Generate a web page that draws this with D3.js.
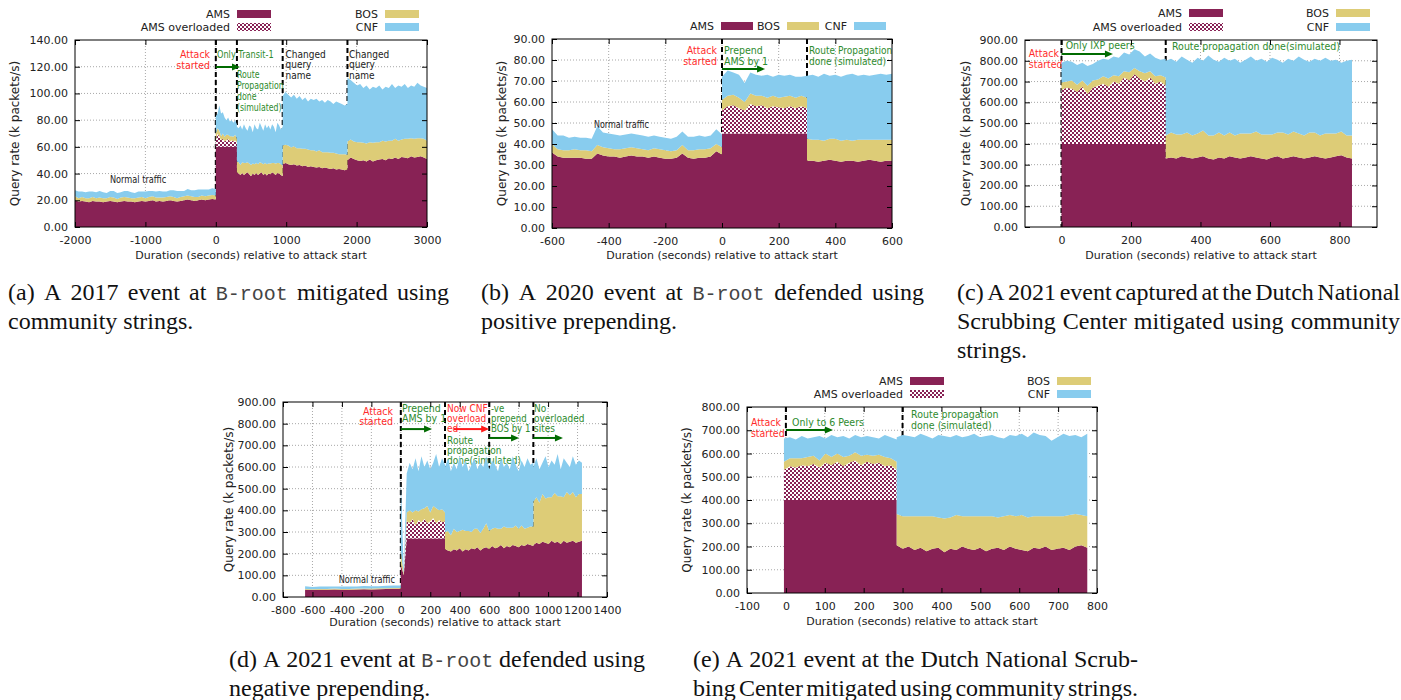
<!DOCTYPE html>
<html>
<head>
<meta charset="utf-8">
<script src="https://d3js.org/d3.v7.min.js"></script>
<style>
body { margin: 0; background: #fff; }
text { font-family: "DejaVu Sans", sans-serif; }
.serif { font-family: "Liberation Serif", "Times New Roman", serif; font-size: 24px; fill: #111; }
.mono { font-family: "Liberation Mono", "DejaVu Sans Mono", monospace; font-size: 20px; fill: #444; }
</style>
</head>
<body>
<svg id="fig" width="1401" height="700"></svg>
<script>

// Colours for the three sites
const AMS_COL = "#882255", BOS_COL = "#ddcc77", CNF_COL = "#88ccee";
const RED = "#ff2b2b", GREEN = "#2e8b2e", DKGREEN = "#006b00", INK = "#222";

// ---------- (a) 2017, B-root, community strings ----------
// segments: [start, end, number of samples]
const aSegments = [[-2000, 0, 41], [0, 300, 13], [300, 950, 27], [950, 1870, 24], [1870, 3000, 26]];
const aAMS = [
  20,19,19.5,19,18.5,19.5,19,19,18.5,19,19.5,19,18.5,19,19.5,19,19,18.5,19,19.5,19,19.5,20,19,19.5,19,19.5,20,19.5,19,19.5,20,20.5,20,19.5,20,20.5,20,20.5,21,20.5,
  60,60,60,60,60,60,60,60,60,60,60,60,60,
  41,40,39,40.5,39,40,41,39.5,38,40,39,40.5,39,40,41,39,40,38.5,40,39.5,41,40,39,40.5,40,39,38,
  47,48,47,46.5,47,46,46.5,45.5,46,45,45.5,45,44.5,45,44,44.5,44,43.5,44,43,43.5,43,42.5,43,
  50,52,51,50,49.5,50,49,50.5,49,50,50.5,51,50,51.5,51,52,51,52.5,52,51.5,53,52,52.5,53,52,51];
const aOverSeg = 1;
const aOver = [5,10,8,5,6,4,5,6,4,5,4,5,3];
const aBOS = [
  3,2.5,3,2.5,3,3,2.5,3,3,2.5,3,3,2.5,3,3,3,2.5,3,3,3,2.5,3,3,3,2.5,3,3,3,3,2.5,3,3,3,3,3,2.5,3,3,3,3,3,
  5,4,4,3,4,3.5,4,3,4,3,3.5,4,3,
  8,8.5,7.5,8,9,8,7.5,8,8.5,7.5,8,7.5,8,8.5,7,8,8,8.5,7.5,8,7,8,8.5,7.5,8,8,8,
  14,13.5,14,13,13.5,13,12.5,13,12.5,13,12,12.5,12,12.5,12,11.5,12,12,11.5,12,11,11.5,12,11,
  14,13.5,13,13.5,14,13,13.5,13,14,13.5,13,13.5,14,13,13.5,14,13.5,13,14,14.5,13.5,14,14,13.5,14,13.5];
const aCNF = [
  4.5,5,4,4.5,5,4,4.5,5,4.5,4,4.5,5,4.5,4,4.5,5,4.5,4,4.5,4,5,4.5,4,4.5,5,4.5,4,4.5,5,5.5,4.5,4,5,4.5,5,5.5,4.5,5,4.5,5,5,
  13,11,19,17,16,14.5,11,13,11,12,10.5,11,11,
  26,25.5,29.5,24.5,29,26,23.5,28.5,28.5,23.5,30,26,26,29.5,27,25,29,27,28.5,25.5,29,27,23.5,30,28,26,29,
  37,39.5,38,37.5,38.5,37,39,36.5,38.5,36,38.5,37.5,39.5,36.5,39,37,39,38.5,36.5,39,38.5,37.5,36.5,38,
  48,44.5,44,42.5,43.5,41,43.5,39.5,42,40.5,42.5,38.5,41,39.5,42.5,38,41.5,39.5,41,38,39.5,39,41.5,39.5,39,39.5];

// ---------- (b) 2020, B-root, positive prepending ----------
const bSegments = [[-600, 0, 31], [0, 300, 16], [300, 600, 16]];
const bAMS = [
  36,34,33.5,33.5,33.5,33.5,33,33,35.5,34.5,34,34,33.5,34,34.5,34,34,33.5,34,33.5,33,33,33.5,35.5,33.5,33,33.5,33.5,34,36.5,35,
  45,45,45,45,45,45,45,45,45,45,45,45,45,45,45,45,
  32,32,31.5,32,32.5,32,31.5,32,32,31.5,32,32.5,32,31.5,32,32];
const bOverSeg = 1;
const bOver = [11,13,13.5,12,11,14,13,13.5,12,13,12.5,12,13,12,13,12];
const bBOS = [
  4,3.5,3.5,3.5,4,3.5,4,3.5,4,4,4,3.5,4,4,4,4,3.5,3.5,4,4,4,3.5,3.5,4,3.5,4,4,4,4,3.5,3.5,
  5,5,5,5,4,5,5,4.5,5,5,4.5,5.5,5,5,5,5,
  10.5,10,10.5,9.5,10,10.5,10,10,9.5,10.5,10,9.5,10,10.5,10,10];
const bCNF = [
  7,6.5,7,6,6,6,6,6,9,7,7,7,6.5,6.5,6.5,6.5,6.5,6.5,6,6,6,6,6.5,6.5,6.5,6.5,6.5,6,6,7,6,
  11,12,10.5,11,9,10,10,9.5,11,9,11,10,10,10,9,10.5,
  30,31,30,32,30,30.5,30.5,31,32,30.5,31,30.5,31,31.5,31,31.5];

// ---------- (c) 2021, Dutch scrubbing center ----------
const cSegments = [[0, 300, 21], [300, 836, 36]];
const cAMS = [
  400,400,400,400,400,400,400,400,400,400,400,400,400,400,400,400,400,400,400,400,400,
  330,335,330,340,335,330,335,340,330,325,335,330,340,335,330,335,340,335,330,325,335,340,330,335,340,335,330,335,340,335,330,335,340,345,335,330];
const cOverSeg = 0;
const cOver = [260,270,265,250,275,240,270,280,290,275,300,290,320,305,335,315,300,320,290,300,280];
const cBOS = [
  35,30,40,35,30,40,35,30,35,40,30,35,30,40,30,35,40,30,35,30,40,
  110,120,115,105,120,110,115,125,110,115,120,110,115,105,120,115,110,125,115,120,110,115,125,110,120,115,110,120,115,105,120,115,110,115,105,110];
const cCNF = [
  95,100,90,95,85,95,80,90,85,90,90,90,90,85,90,95,80,85,90,75,90,
  360,355,350,375,350,350,365,335,385,365,340,375,345,370,340,355,370,340,365,350,370,350,335,365,340,370,365,340,355,360,365,350,355,330,360,365];

// ---------- (d) 2021, B-root, negative prepending ----------
const dSegments = [[-650, 0, 14], [0, 300, 16], [300, 900, 31], [900, 1230, 17]];
const dAMS = [
  33,32,34,33,35,34,33,35,36,35,36,37,38,38,
  150,100,270,270,270,270,270,270,270,270,270,270,270,270,270,270,
  220,215,210,220,215,225,210,220,215,225,220,230,215,225,230,220,235,225,230,240,225,235,230,240,235,230,240,235,245,240,235,
  240,250,245,255,250,245,260,250,255,245,260,250,255,260,250,255,260];
const dOverSeg = 1;
const dOver = [0,0,80,70,90,60,85,75,90,70,80,95,70,85,75,80];
const dBOS = [
  4,4,3,4,4,3,4,4,3,4,4,3,4,4,
  60,10,40,60,30,70,40,60,50,80,40,55,70,45,60,40,
  80,90,75,95,85,80,100,85,90,75,95,85,80,90,110,85,80,95,85,75,100,85,90,80,95,85,90,80,75,85,90,
  200,210,190,220,205,215,200,230,210,220,200,235,215,225,210,220,215];
const dCNF = [
  13,10,12,11,10,12,11,10,12,11,10,12,11,12,
  330,10,180,220,200,240,185,245,190,210,200,200,250,200,235,220,
  300,335,295,305,290,345,290,325,275,310,325,275,325,285,310,285,315,290,265,325,275,300,270,330,280,265,300,285,320,285,295,
  160,180,155,145,195,140,170,130,195,125,180,135,130,165,150,155,145];

// ---------- (e) 2021, Dutch scrubbing center ----------
const eSegments = [[-5, 285, 20], [285, 775, 33]];
const eAMS = [
  400,400,400,400,400,400,400,400,400,400,400,400,400,400,400,400,400,400,400,400,
  205,190,200,185,195,180,190,195,175,190,185,200,190,185,195,180,190,195,185,200,190,185,180,195,190,200,185,190,195,185,200,205,195];
const eOverSeg = 0;
const eOver = [130,145,140,150,145,155,140,160,150,165,145,160,170,150,165,155,160,145,150,130];
const eBOS = [
  35,35,40,30,40,35,30,40,35,35,40,30,35,40,30,35,35,40,30,35,
  135,140,130,145,135,150,140,130,145,135,150,130,140,145,135,150,140,130,145,135,140,150,145,135,140,130,145,140,135,150,140,130,135];
const eCNF = [
  100,90,80,95,80,80,105,65,95,70,90,75,75,80,80,80,70,95,90,95,
  330,350,345,340,355,345,335,355,355,345,345,340,345,355,340,345,350,345,335,345,345,350,345,360,350,345,325,340,355,340,340,335,355];

const svg = d3.select("#fig");

// Checkered fill for "AMS overloaded"
const defs = svg.append("defs");
const pat = defs.append("pattern").attr("id", "checker")
	.attr("patternUnits", "userSpaceOnUse").attr("width", 4).attr("height", 4);
pat.append("rect").attr("width", 4).attr("height", 4).attr("fill", "#fff");
pat.append("rect").attr("width", 2).attr("height", 2).attr("fill", AMS_COL);
pat.append("rect").attr("x", 2).attr("y", 2).attr("width", 2).attr("height", 2).attr("fill", AMS_COL);

const FILL = {ams: AMS_COL, over: "url(#checker)", bos: BOS_COL, cnf: CNF_COL};

// Turn segment lists into rows for the stack
function buildRows(segs, ams, over, overSeg, bos, cnf) {
	const rows = [];
	let k = 0;
	segs.forEach(([t0, t1, n], si) => {
		for (let i = 0; i < n; i++, k++) {
			rows.push({
				t: t0 + (t1 - t0) * i / (n - 1),
				ams: ams[k],
				over: si === overSeg ? over[i] : 0,
				bos: bos[k],
				cnf: cnf[k]
			});
		}
	});
	return rows;
}

let clipId = 0;

// Draw one panel
function drawPanel(p) {
	const bottom = p.top + p.height, right = p.left + p.width;
	const x = d3.scaleLinear().domain(p.xDomain).range([p.left, right]);
	const y = d3.scaleLinear().domain([0, p.yMax]).range([bottom, p.top]);
	const g = svg.append("g");

	const yTicks = d3.range(0, p.yMax + 1e-9, p.yStep);
	const xTicks = d3.range(p.xTicks[0], p.xTicks[1] + 1e-9, p.xTicks[2]);

	// Grid (dotted)
	g.append("g").selectAll("line")
		.data(yTicks.filter(v => v > 0 && v < p.yMax))
		.join("line")
		.attr("x1", p.left).attr("x2", right)
		.attr("y1", d => y(d)).attr("y2", d => y(d))
		.attr("stroke", "#a8a8a8").attr("stroke-dasharray", "1,2");
	g.append("g").selectAll("line")
		.data(xTicks.filter(v => v > p.xDomain[0] && v < p.xDomain[1]))
		.join("line")
		.attr("x1", d => x(d)).attr("x2", d => x(d))
		.attr("y1", p.top).attr("y2", bottom)
		.attr("stroke", "#a8a8a8").attr("stroke-dasharray", "1,2");

	// Event markers (behind data)
	g.append("g").selectAll("line")
		.data(p.events)
		.join("line")
		.attr("x1", d => x(d)).attr("x2", d => x(d))
		.attr("y1", p.top).attr("y2", bottom)
		.attr("stroke", "#000").attr("stroke-width", 2).attr("stroke-dasharray", "5,3");

	// Annotation labels (behind data, like the original)
	p.notes.forEach(n => {
		const t = g.append("text")
			.attr("transform", `translate(${x(n.t)},${y(n.v)}) scale(${n.sx || 0.9},1)`)
			.attr("fill", n.color)
			.attr("text-anchor", n.anchor || "start")
			.style("font-size", (n.fs || 10.5) + "px");
		t.selectAll("tspan").data(n.lines).join("tspan")
			.attr("x", 0).attr("y", (d, i) => i * (n.lh || p.lineH || 11)).attr("dy", "0.35em")
			.text(d => d);
	});

	// Stacked areas
	const rows = buildRows(p.segs, p.ams, p.over, p.overSeg, p.bos, p.cnf);
	const series = d3.stack().keys(["ams", "over", "bos", "cnf"])(rows);
	const area = d3.area()
		.x(d => x(d.data.t))
		.y0(d => y(d[0]))
		.y1(d => y(d[1]));
	const cid = "clip" + (clipId++);
	defs.append("clipPath").attr("id", cid).append("rect")
		.attr("x", p.left).attr("y", p.top).attr("width", p.width).attr("height", p.height);
	g.append("g").attr("clip-path", `url(#${cid})`)
		.selectAll("path").data(series).join("path")
		.attr("d", area)
		.attr("fill", d => FILL[d.key]);

	// Arrows
	p.arrows.forEach(a => {
		const x0 = x(a.t0), x1 = x(a.t1), yy = y(a.v);
		g.append("line").attr("x1", x0).attr("x2", x1 - 6).attr("y1", yy).attr("y2", yy)
			.attr("stroke", a.color).attr("stroke-width", 2);
		g.append("path").attr("d", `M${x1},${yy} L${x1 - 8},${yy - 3.5} L${x1 - 8},${yy + 3.5} Z`)
			.attr("fill", a.color);
	});

	// Axes (ticks inward, mirrored)
	const styleAxis = sel => {
		sel.select(".domain").remove();
		sel.attr("font-family", "DejaVu Sans").attr("font-size", 11);
		sel.selectAll("text").attr("fill", INK);
	};
	g.append("g").attr("transform", `translate(0,${bottom})`)
		.call(d3.axisBottom(x).tickValues(xTicks).tickSize(-5).tickPadding(9).tickFormat(d => d))
		.call(styleAxis);
	g.append("g").attr("transform", `translate(0,${p.top})`)
		.call(d3.axisTop(x).tickValues(xTicks).tickSize(-5).tickFormat(""))
		.call(styleAxis);
	g.append("g").attr("transform", `translate(${p.left},0)`)
		.call(d3.axisLeft(y).tickValues(yTicks).tickSize(-5).tickPadding(7).tickFormat(d3.format(".2f")))
		.call(styleAxis);
	g.append("g").attr("transform", `translate(${right},0)`)
		.call(d3.axisRight(y).tickValues(yTicks).tickSize(-5).tickFormat(""))
		.call(styleAxis);

	// Border
	g.append("rect").attr("x", p.left).attr("y", p.top)
		.attr("width", p.width).attr("height", p.height)
		.attr("fill", "none").attr("stroke", "#000");

	// Axis titles
	g.append("text")
		.attr("x", p.left + p.width / 2).attr("y", bottom + p.xLabelOff).attr("dy", "0.35em")
		.attr("text-anchor", "middle").attr("fill", INK).style("font-size", "11px")
		.text("Duration (seconds) relative to attack start");
	g.append("text")
		.attr("transform", `translate(${p.left - p.yLabelOff},${p.top + p.height / 2}) rotate(-90)`)
		.attr("dy", "0.35em")
		.attr("text-anchor", "middle").attr("fill", INK).style("font-size", "12px")
		.text("Query rate (k packets/s)");

	// Legend
	p.legend.forEach(l => {
		g.append("text").attr("x", l.lx).attr("y", l.ly).attr("dy", "0.35em")
			.attr("text-anchor", "end").attr("fill", INK).style("font-size", "11px")
			.text(l.label);
		g.append("rect").attr("x", l.lx + 7).attr("y", l.ly - 4)
			.attr("width", p.swW).attr("height", 8)
			.attr("fill", FILL[l.key]);
	});
}

// Caption text, justified by spreading word gaps
function drawCaption(c) {
	c.lines.forEach((line, li) => {
		const lg = svg.append("g");
		const yy = c.y + li * 29;
		const words = line.split(" ");
		const nodes = words.map(w => lg.append("text")
			.attr("class", w === "B-root" ? "mono" : "serif")
			.attr("y", yy).text(w));
		const widths = nodes.map(n => n.node().getComputedTextLength());
		const total = d3.sum(widths);
		const last = li === c.lines.length - 1;
		let gap = 6, scale = 1;
		if ((!last || c.justifyLast) && words.length > 1) {
			gap = (c.w - total) / (words.length - 1);
			if (gap < 3) {
				gap = 3;
				scale = c.w / (total + gap * (words.length - 1));
			}
		}
		let cx = 0;
		nodes.forEach((n, i) => {
			n.attr("x", cx);
			cx += widths[i] + gap;
		});
		lg.attr("transform", `translate(${c.x},0) scale(${scale},1)`);
	});
}

const panels = [
	{
		left: 75, top: 40, width: 352, height: 187,
		xDomain: [-2000, 3000], xTicks: [-2000, 3000, 1000], yMax: 140, yStep: 20,
		segs: aSegments, ams: aAMS, over: aOver, overSeg: aOverSeg, bos: aBOS, cnf: aCNF,
		events: [0, 300, 950, 1870],
		notes: [
			{t: -82, v: 129.5, anchor: "end", color: RED, lines: ["Attack", "started"]},
			{t: 17, v: 129.5, color: GREEN, sx: 0.78, lines: ["Only Transit-1"]},
			{t: 301, v: 114.5, color: GREEN, fs: 10, sx: 0.78, lines: ["Route", "Propagation", "done", "(simulated)"]},
			{t: 990, v: 129.5, color: INK, fs: 10, lh: 10.5, lines: ["Changed", "query", "name"]},
			{t: 1892, v: 129.5, color: INK, fs: 10, lh: 10.5, lines: ["Changed", "query", "name"]},
			{t: -1503, v: 35.2, color: INK, fs: 10, sx: 0.82, lines: ["Normal traffic"]}
		],
		arrows: [{t0: 0, t1: 344, v: 119.8, color: DKGREEN}],
		xLabelOff: 28, yLabelOff: 60, swW: 34,
		legend: [
			{label: "AMS", key: "ams", lx: 230, ly: 14},
			{label: "AMS overloaded", key: "over", lx: 230, ly: 27},
			{label: "BOS", key: "bos", lx: 378, ly: 14},
			{label: "CNF", key: "cnf", lx: 378, ly: 27}
		]
	},
	{
		left: 552, top: 39, width: 340, height: 189,
		xDomain: [-600, 600], xTicks: [-600, 600, 200], yMax: 90, yStep: 10,
		segs: bSegments, ams: bAMS, over: bOver, overSeg: bOverSeg, bos: bBOS, cnf: bCNF,
		events: [0, 300],
		notes: [
			{t: -18, v: 84.8, anchor: "end", color: RED, lines: ["Attack", "started"]},
			{t: 7, v: 84.8, color: GREEN, lines: ["Prepend", "AMS by 1"]},
			{t: 307, v: 84.8, color: GREEN, sx: 0.86, lines: ["Route Propagation", "done (simulated)"]},
			{t: -452, v: 49.5, color: INK, fs: 10, sx: 0.8, lines: ["Normal traffic"]}
		],
		arrows: [{t0: 0, t1: 152, v: 75.7, color: DKGREEN}],
		xLabelOff: 27, yLabelOff: 50, swW: 32,
		legend: [
			{label: "AMS", key: "ams", lx: 714, ly: 26},
			{label: "BOS", key: "bos", lx: 780, ly: 26},
			{label: "CNF", key: "cnf", lx: 847, ly: 26}
		]
	},
	{
		left: 1025, top: 40, width: 352, height: 187,
		xDomain: [-105, 908], xTicks: [0, 800, 200], yMax: 900, yStep: 100,
		segs: cSegments, ams: cAMS, over: cOver, overSeg: cOverSeg, bos: cBOS, cnf: cCNF,
		events: [0, 300],
		notes: [
			{t: -94, v: 837, color: RED, lines: ["Attack", "started"]},
			{t: 12, v: 876, color: GREEN, lines: ["Only IXP peers"]},
			{t: 318, v: 871, color: GREEN, lines: ["Route propagation done(simulated)"]}
		],
		arrows: [{t0: 0, t1: 148, v: 833, color: DKGREEN}],
		xLabelOff: 28, yLabelOff: 59, swW: 34,
		legend: [
			{label: "AMS", key: "ams", lx: 1182, ly: 13},
			{label: "AMS overloaded", key: "over", lx: 1182, ly: 27},
			{label: "BOS", key: "bos", lx: 1329, ly: 13},
			{label: "CNF", key: "cnf", lx: 1329, ly: 27}
		]
	},
	{
		left: 283, top: 402, width: 324, height: 195,
		xDomain: [-800, 1400], xTicks: [-800, 1400, 200], yMax: 900, yStep: 100,
		segs: dSegments, ams: dAMS, over: dOver, overSeg: dOverSeg, bos: dBOS, cnf: dCNF,
		events: [0, 300, 600, 900],
		lineH: 10,
		notes: [
			{t: -53, v: 858, anchor: "end", color: RED, lines: ["Attack", "started"]},
			{t: 8, v: 872, color: GREEN, lines: ["Prepend", "AMS by 1"]},
			{t: 314, v: 872, color: RED, fs: 10, lines: ["Now CNF", "overload", "ed"]},
			{t: 314, v: 722, color: GREEN, fs: 10, lines: ["Route", "propagation", "done(simulated)"]},
			{t: 612, v: 872, color: GREEN, fs: 10, sx: 0.86, lines: ["-ve", "prepend", "BOS by 1"]},
			{t: 904, v: 872, color: GREEN, fs: 10, lines: ["No", "overloaded", "sites"]},
			{t: -40, v: 83, anchor: "end", color: INK, fs: 10, sx: 0.82, lines: ["Normal traffic"]}
		],
		arrows: [
			{t0: 0, t1: 212, v: 775, color: DKGREEN},
			{t0: 360, t1: 600, v: 775, color: "#ff1a1a"},
			{t0: 600, t1: 803, v: 734, color: DKGREEN},
			{t0: 900, t1: 1101, v: 734, color: DKGREEN}
		],
		xLabelOff: 25, yLabelOff: 54, swW: 34,
		legend: []
	},
	{
		left: 747, top: 407, width: 350, height: 186,
		xDomain: [-100, 800], xTicks: [-100, 800, 100], yMax: 800, yStep: 100,
		segs: eSegments, ams: eAMS, over: eOver, overSeg: eOverSeg, bos: eBOS, cnf: eCNF,
		events: [0, 300],
		notes: [
			{t: -90, v: 735, color: RED, lines: ["Attack", "started"]},
			{t: 16, v: 735, color: GREEN, lines: ["Only to 6 Peers"]},
			{t: 322, v: 770, color: GREEN, lines: ["Route propagation", "done (simulated)"]}
		],
		arrows: [{t0: 0, t1: 121, v: 701, color: DKGREEN}],
		xLabelOff: 28, yLabelOff: 60, swW: 34,
		legend: [
			{label: "AMS", key: "ams", lx: 903, ly: 381},
			{label: "AMS overloaded", key: "over", lx: 903, ly: 394},
			{label: "BOS", key: "bos", lx: 1050, ly: 381},
			{label: "CNF", key: "cnf", lx: 1050, ly: 394}
		]
	}
];

panels.forEach(drawPanel);

const captions = [
	{x: 8, w: 441, y: 300, lines: ["(a) A 2017 event at B-root mitigated using", "community strings."]},
	{x: 481, w: 443, y: 300, lines: ["(b) A 2020 event at B-root defended using", "positive prepending."]},
	{x: 957, w: 443, y: 300, lines: ["(c) A 2021 event captured at the Dutch National", "Scrubbing Center mitigated using community", "strings."]},
	{x: 229, w: 416, y: 667, lines: ["(d) A 2021 event at B-root defended using", "negative prepending."]},
	{x: 693, w: 445, y: 667, justifyLast: true, lines: ["(e) A 2021 event at the Dutch National Scrub-", "bing Center mitigated using community strings."]}
];
captions.forEach(drawCaption);

</script>
</body>
</html>
